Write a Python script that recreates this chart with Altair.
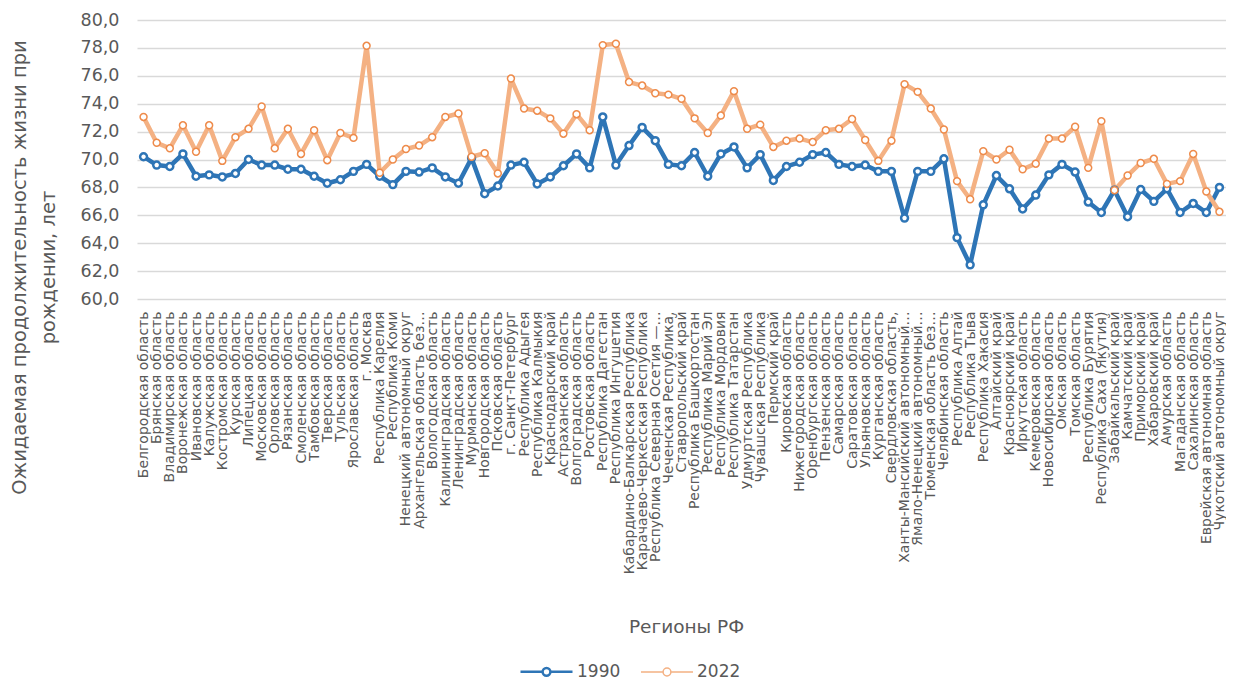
import altair as alt
import pandas as pd

regions = [
    "Белгородская область", "Брянская область", "Владимирская область", "Воронежская область",
    "Ивановская область", "Калужская область", "Костромская область", "Курская область",
    "Липецкая область", "Московская область", "Орловская область", "Рязанская область",
    "Смоленская область", "Тамбовская область", "Тверская область", "Тульская область",
    "Ярославская область", "г. Москва", "Республика Карелия", "Республика Коми",
    "Ненецкий автономный округ", "Архангельская область без…", "Вологодская область",
    "Калининградская область", "Ленинградская область", "Мурманская область",
    "Новгородская область", "Псковская область", "г. Санкт-Петербург", "Республика Адыгея",
    "Республика Калмыкия", "Краснодарский край", "Астраханская область", "Волгоградская область",
    "Ростовская область", "Республика Дагестан", "Республика Ингушетия",
    "Кабардино-Балкарская Республика", "Карачаево-Черкесская Республика",
    "Республика Северная Осетия —…", "Чеченская Республика,", "Ставропольский край",
    "Республика Башкортостан", "Республика Марий Эл", "Республика Мордовия",
    "Республика Татарстан", "Удмуртская Республика", "Чувашская Республика", "Пермский край",
    "Кировская область", "Нижегородская область", "Оренбургская область", "Пензенская область",
    "Самарская область", "Саратовская область", "Ульяновская область", "Курганская область",
    "Свердловская область,", "Ханты-Мансийский автономный…", "Ямало-Ненецкий автономный…",
    "Тюменская область без…", "Челябинская область", "Республика Алтай", "Республика Тыва",
    "Республика Хакасия", "Алтайский край", "Красноярский край", "Иркутская область",
    "Кемеровская область", "Новосибирская область", "Омская область", "Томская область",
    "Республика Бурятия", "Республика Саха (Якутия)", "Забайкальский край", "Камчатский край",
    "Приморский край", "Хабаровский край", "Амурская область", "Магаданская область",
    "Сахалинская область", "Еврейская автономная область", "Чукотский автономный округ",
]

v1990 = [
    70.2, 69.6, 69.5, 70.4, 68.8, 68.9, 68.75, 69.0, 70.0, 69.6,
    69.6, 69.3, 69.3, 68.8, 68.3, 68.55, 69.15, 69.65, 68.8, 68.2,
    69.15, 69.1, 69.4, 68.75, 68.3, 70.1, 67.55, 68.1, 69.6, 69.8,
    68.25, 68.75, 69.55, 70.4, 69.4, 73.05, 69.6, 71.0, 72.3, 71.35,
    69.65, 69.55, 70.5, 68.8, 70.4, 70.9, 69.4, 70.35, 68.5, 69.5,
    69.8, 70.35, 70.5, 69.65, 69.5, 69.6, 69.15, 69.15, 65.8, 69.15,
    69.15, 70.05, 64.4, 62.45, 66.75, 68.85, 67.9, 66.45, 67.45, 68.9,
    69.65, 69.1, 66.95, 66.2, 67.8, 65.9, 67.85, 67.0, 67.9, 66.2,
    66.85, 66.2, 68.0,
]

v2022 = [
    73.05, 71.2, 70.8, 72.45, 70.55, 72.45, 69.9, 71.6, 72.2, 73.8,
    70.8, 72.2, 70.4, 72.1, 69.95, 71.9, 71.55, 78.15, 69.05, 70.0,
    70.75, 71.0, 71.6, 73.05, 73.3, 70.2, 70.45, 69.0, 75.8, 73.65,
    73.5, 72.95, 71.85, 73.25, 72.1, 78.2, 78.3, 75.55, 75.3, 74.75,
    74.65, 74.35, 72.95, 71.9, 73.15, 74.9, 72.2, 72.5, 70.9, 71.35,
    71.5, 71.25, 72.1, 72.2, 72.9, 71.4, 69.9, 71.35, 75.4, 74.85,
    73.65, 72.15, 68.45, 67.15, 70.6, 70.0, 70.7, 69.3, 69.7, 71.5,
    71.5, 72.35, 69.4, 72.75, 67.8, 68.85, 69.75, 70.05, 68.25, 68.45,
    70.4, 67.7, 66.25,
]

years = ["1990", "2022"]
y_ticks = [60, 62, 64, 66, 68, 70, 72, 74, 76, 78, 80]

line_colors = ["#2E75B6", "#F4B183"]
marker_colors = ["#2E75B6", "#EE8B4B"]
marker_widths = [2.5, 1.5]

rows = []
for i, (r, a, b) in enumerate(zip(regions, v1990, v2022)):
    rows.append({"i": i, "Регион": r, "Год": years[0], "Значение": a})
    rows.append({"i": i, "Регион": r, "Год": years[1], "Значение": b})
df = pd.DataFrame(rows)

FONT = "DejaVu Sans"
GRAY = "#595959"

x_enc = alt.X(
    "Регион:N",
    sort=regions,
    scale=alt.Scale(type="point", padding=0.5),
    axis=alt.Axis(
        title="Регионы РФ",
        labelAngle=270,
        labelAlign="right",
        labelBaseline="middle",
        labelPadding=12,
        labelFontSize=14,
        labelColor=GRAY,
        labelFont=FONT,
        labelOverlap=False,
        labelLimit=0,
        ticks=False,
        tickSize=0,
        domain=False,
        grid=False,
        titleFont=FONT,
        titleFontSize=18.5,
        titleFontWeight="normal",
        titleColor=GRAY,
        titleBaseline="middle",
        titleY=327,
        titleX=549,
    ),
)

y_enc = alt.Y(
    "Значение:Q",
    scale=alt.Scale(domain=[60, 80], nice=False, zero=False),
    axis=alt.Axis(
        title=["Ожидаемая продолжительность жизни при", "рождении, лет"],
        values=y_ticks,
        labelExpr="replace(format(datum.value, '.1f'), '.', ',')",
        labelFontSize=17.5,
        labelColor=GRAY,
        labelFont=FONT,
        labelPadding=18,
        ticks=False,
        tickSize=0,
        domain=False,
        grid=True,
        gridColor="#D9D9D9",
        gridWidth=1.5,
        titleFont=FONT,
        titleFontSize=19.5,
        titleFontWeight="normal",
        titleColor=GRAY,
        titleAngle=270,
        titleAlign="center",
        titleBaseline="top",
        titleLineHeight=29,
        titleX=-127,
        titleY=247,
    ),
)

base = alt.Chart(df)

lines = base.mark_line(strokeWidth=4.5, strokeJoin="round", strokeCap="round").encode(
    x=x_enc,
    y=y_enc,
    order=alt.Order("i:Q"),
    color=alt.Color(
        "Год:N",
        scale=alt.Scale(domain=years, range=line_colors),
        legend=alt.Legend(
            title=None,
            orient="none",
            direction="horizontal",
            legendX=382,
            legendY=624,
            symbolType="M-1,0H-0.17M0.17,0H1M0.15,0A0.15,0.15,0,1,1,-0.15,0A0.15,0.15,0,1,1,0.15,0",
            symbolSize=2704,
            symbolStrokeWidth=5,
            symbolFillColor="white",
            labelFont=FONT,
            labelFontSize=17,
            labelColor=GRAY,
            labelOffset=3,
            columnPadding=17,
        ),
    ),
)

points = base.mark_point(shape="circle", filled=True, fill="white", fillOpacity=1, opacity=1, size=48).encode(
    x=x_enc,
    y=y_enc,
    stroke=alt.Stroke("Год:N", scale=alt.Scale(domain=years, range=marker_colors), legend=None),
    strokeWidth=alt.StrokeWidth("Год:N", scale=alt.Scale(domain=years, range=marker_widths), legend=None),
)

chart = (
    alt.layer(lines, points)
    .properties(
        width=1089,
        height=279,
        autosize=alt.AutoSizeParams(type="none"),
        padding={"left": 129, "top": 12, "right": 0, "bottom": 385},
    )
    .configure_view(stroke=None)
    .configure_legend(symbolBaseFillColor="white")
)

chart.save("out.html", embed_options={"renderer": "svg", "actions": False})
